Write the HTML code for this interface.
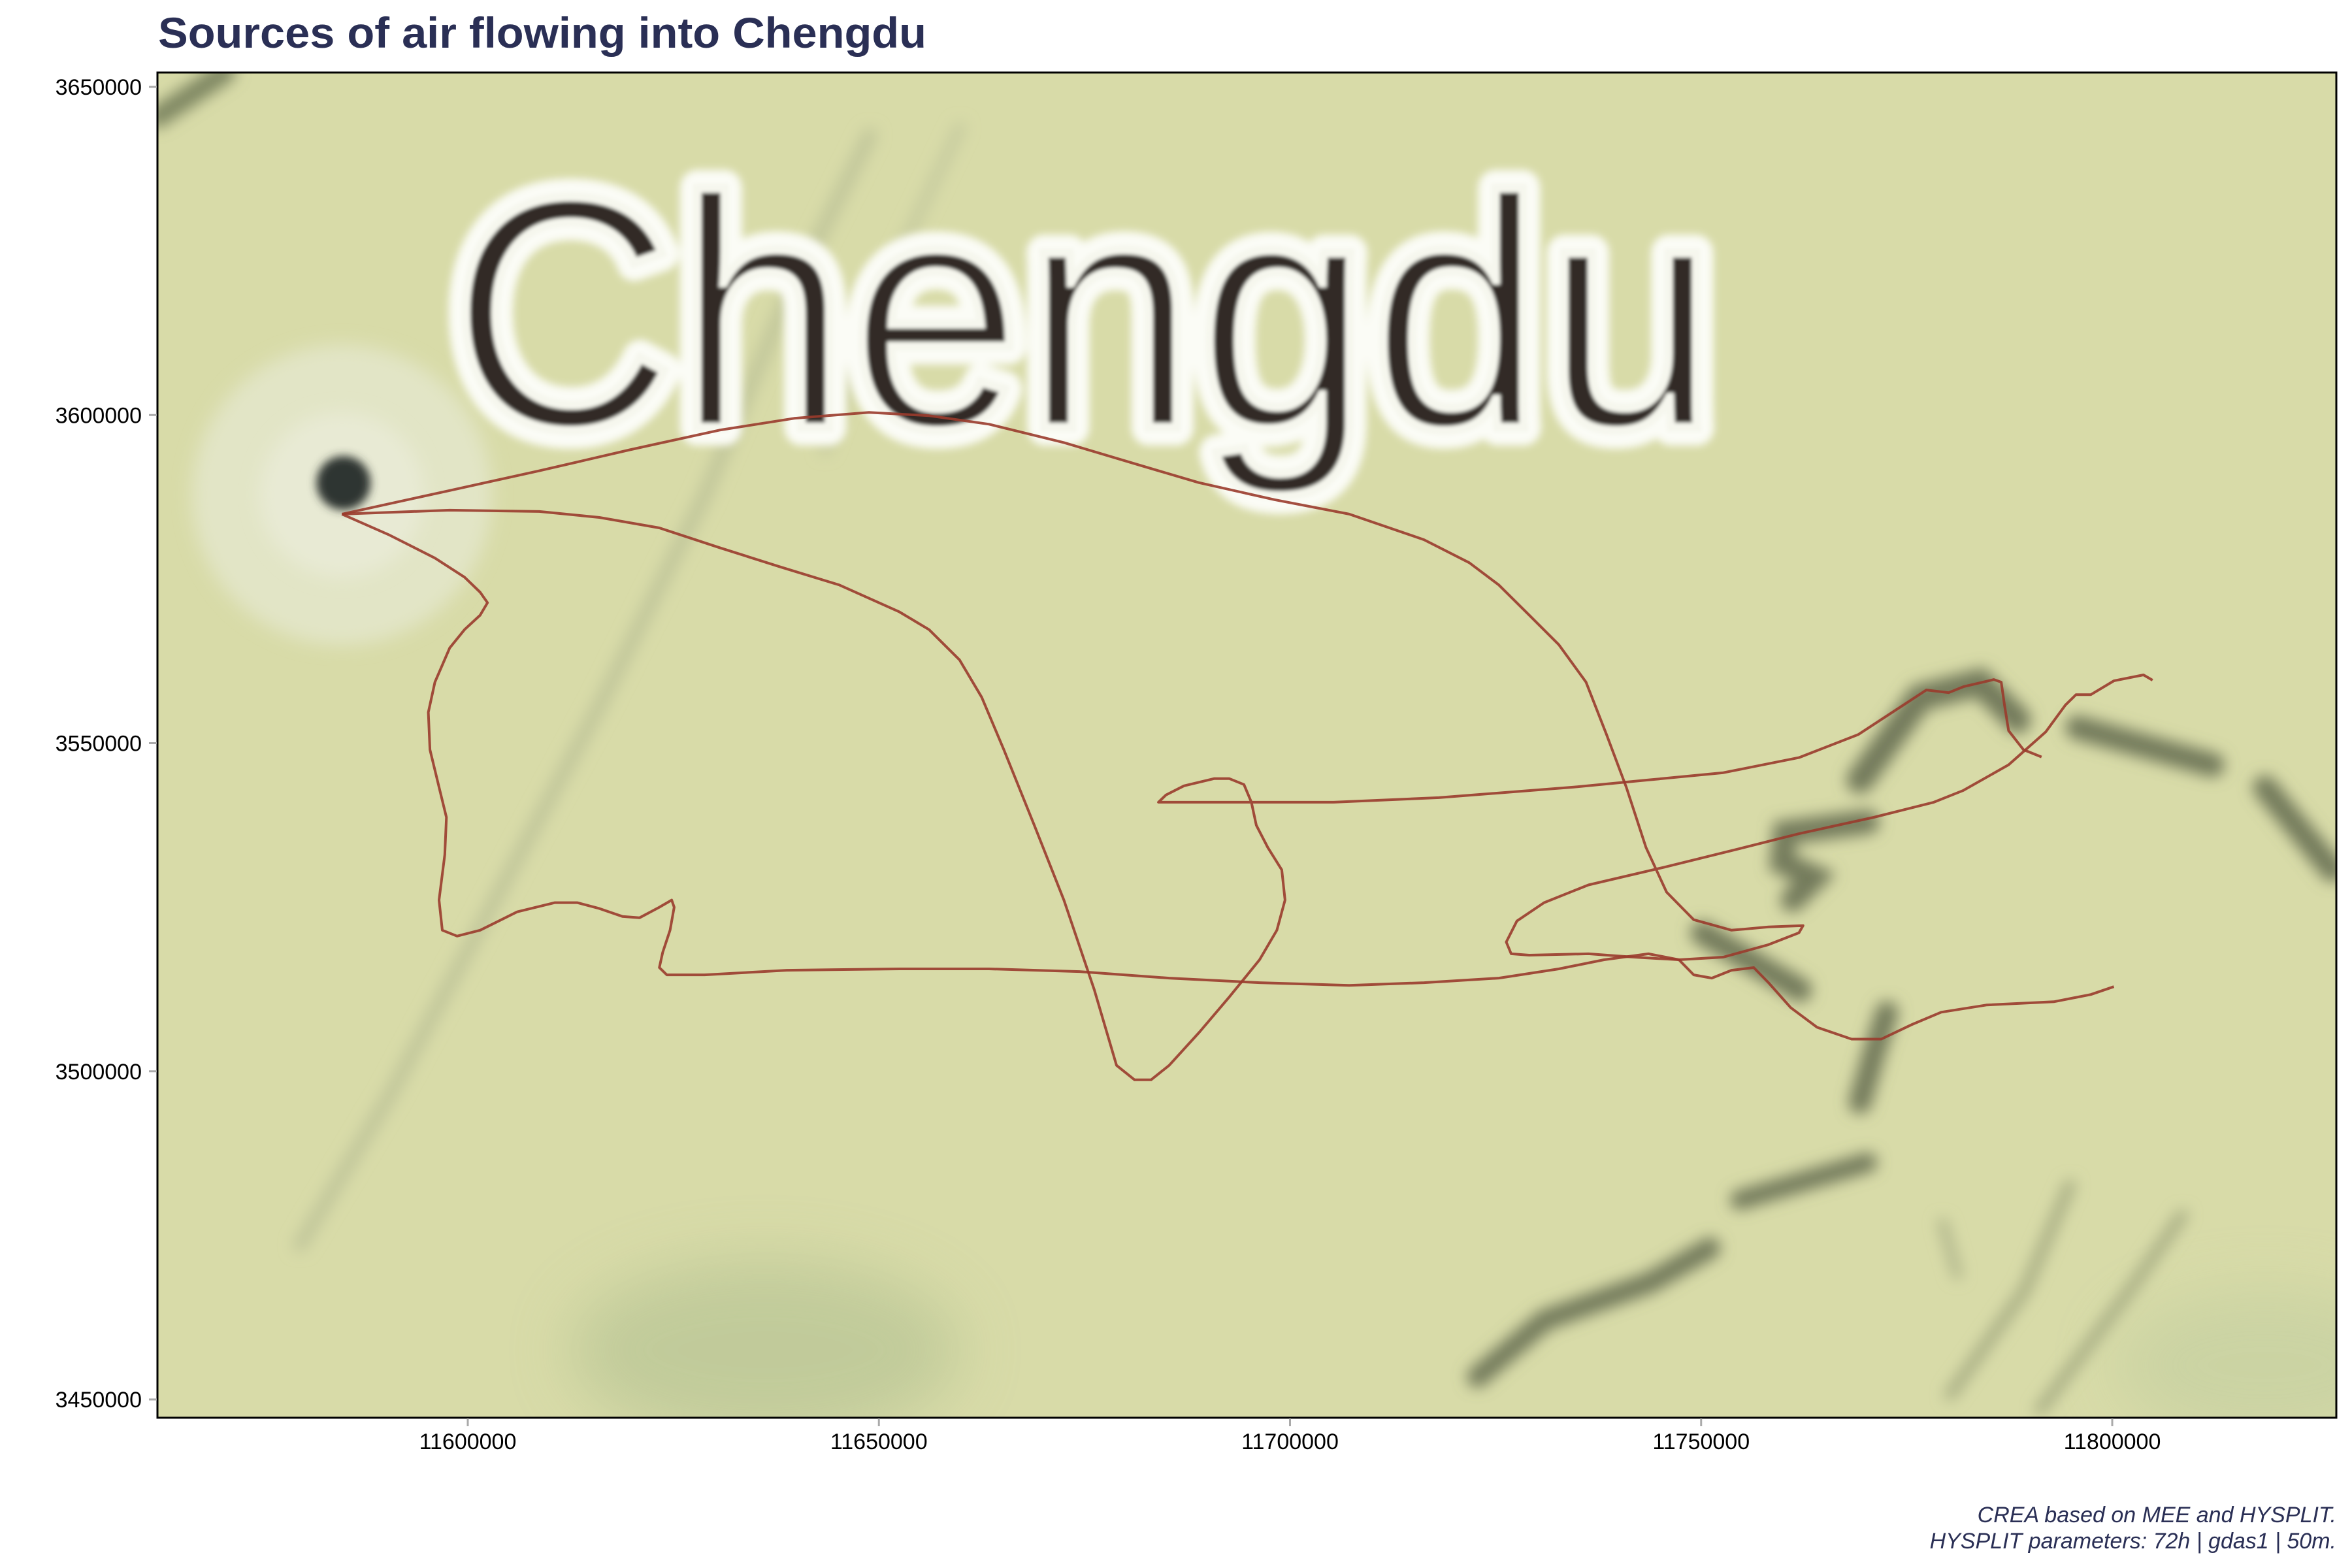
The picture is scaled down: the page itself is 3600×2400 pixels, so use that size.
<!DOCTYPE html>
<html><head><meta charset="utf-8">
<style>
html,body{margin:0;padding:0;background:#fff;}
svg{display:block;}
</style></head>
<body>
<svg id="chart" width="3600" height="2400" viewBox="0 0 3600 2400" xmlns="http://www.w3.org/2000/svg">
<defs>
<clipPath id="plotClip"><rect x="241" y="111" width="3335" height="2059"/></clipPath>
<filter id="blur3" x="-20%" y="-20%" width="140%" height="140%"><feGaussianBlur stdDeviation="3"/></filter>
<filter id="blur5" x="-20%" y="-20%" width="140%" height="140%"><feGaussianBlur stdDeviation="5"/></filter>
<filter id="blur6" x="-50%" y="-50%" width="200%" height="200%"><feGaussianBlur stdDeviation="6"/></filter>
<filter id="blur20" x="-50%" y="-50%" width="200%" height="200%"><feGaussianBlur stdDeviation="20"/></filter>
</defs>
<text x="242" y="73" font-family="Liberation Sans, Helvetica, sans-serif" font-weight="bold" font-size="66" fill="#2a2f55" textLength="1176" lengthAdjust="spacingAndGlyphs">Sources of air flowing into Chengdu</text>

<g clip-path="url(#plotClip)">
  <rect x="241" y="111" width="3335" height="2059" fill="#d8dba8"/>
  <g transform="scale(2.2959)">
    <ellipse cx="510" cy="900" rx="130" ry="60" fill="#bcc797" opacity="0.8" filter="url(#blur20)"/>
    <ellipse cx="1510" cy="910" rx="100" ry="50" fill="#c8d1a2" opacity="0.8" filter="url(#blur20)"/>
    <g fill="none" stroke-linecap="round" filter="url(#blur5)">
      <path d="M105,78 L150,48" stroke="#7d8560" stroke-width="14"/>
      <path d="M580,90 L520,210 L470,330 L400,470 L330,600 L260,730 L200,830" stroke="#c0c59a" stroke-width="9"/>
      <path d="M640,85 L590,190 L550,300" stroke="#c4c99e" stroke-width="7"/>
      <path d="M1240,520 L1280,465 L1320,455 L1345,480" stroke="#737a5b" stroke-width="18"/>
      <path d="M1385,485 L1475,510" stroke="#737a5b" stroke-width="16"/>
      <path d="M1510,525 L1555,580" stroke="#737a5b" stroke-width="16"/>
      <path d="M1245,548 L1190,555 L1188,575 L1210,585 L1195,600" stroke="#737a5b" stroke-width="16"/>
      <path d="M1135,622 L1200,660" stroke="#737a5b" stroke-width="16"/>
      <path d="M1258,675 L1250,700 L1240,735" stroke="#737a5b" stroke-width="15"/>
      <path d="M1160,800 L1245,775" stroke="#737a5b" stroke-width="13"/>
      <path d="M985,918 L1030,880 L1100,855 L1140,832" stroke="#737a5b" stroke-width="14"/>
      <path d="M1300,930 L1350,860 L1380,790" stroke="#a2a880" stroke-width="7"/>
      <path d="M1360,940 L1420,860 L1455,810" stroke="#a2a880" stroke-width="7"/>
      <path d="M1295,815 L1305,850" stroke="#aab088" stroke-width="6"/>
    </g>
    <circle cx="228" cy="330" r="100" fill="#e2e5c6" filter="url(#blur6)"/>
    <circle cx="228" cy="330" r="55" fill="#e8ead4" filter="url(#blur6)"/>
    <circle cx="229" cy="322" r="18" fill="#2f3430" filter="url(#blur3)"/>
  </g>
  <g>
    <text x="689" y="654" font-family="Liberation Sans, DejaVu Sans, sans-serif" font-size="505" textLength="1940" lengthAdjust="spacingAndGlyphs" fill="#fbfcf6" stroke="#fbfcf6" stroke-width="56" stroke-linejoin="round" filter="url(#blur6)">Chengdu</text>
    <text x="689" y="654" font-family="Liberation Sans, DejaVu Sans, sans-serif" font-size="505" textLength="1940" lengthAdjust="spacingAndGlyphs" fill="#332b26" stroke="#f6f7ee" stroke-width="14" filter="url(#blur3)">Chengdu</text>
  </g>
  <g id="traj"></g>
</g>
<rect x="241" y="111" width="3335" height="2059" fill="none" stroke="#000" stroke-width="3"/>
<g id="xaxis"></g>
<g id="yaxis"></g>
<text x="3576" y="2330" text-anchor="end" font-family="Liberation Sans, Helvetica, sans-serif" font-style="italic" font-size="34" fill="#2a2f55">CREA based on MEE and HYSPLIT.</text>
<text x="3576" y="2370" text-anchor="end" font-family="Liberation Sans, Helvetica, sans-serif" font-style="italic" font-size="34" fill="#2a2f55">HYSPLIT parameters: 72h | gdas1 | 50m.</text>
</svg>
<script>
// values in thousands of projected metres
const xTicks = [11600, 11650, 11700, 11750, 11800];
const yTicks = [3450, 3500, 3550, 3600, 3650];
const xTickLabels = ["11600000","11650000","11700000","11750000","11800000"];
const yTickLabels = ["3450000","3500000","3550000","3600000","3650000"];

const trajAx = [11584.7,11597.8,11608.7,11619.7,11630.6,11639.7,11648.8,11656.1,11663.4,11672.5,11681.6,11688.9,11698.1,11707.2,11716.3,11721.8,11725.4,11729.1,11732.7,11736.0,11738.5,11740.9,11743.3,11745.8,11749.1,11753.7,11758.2,11762.4,11761.9,11758.2,11752.7,11747.3,11741.8,11736.3,11729.1,11726.9,11726.3,11727.6,11730.9,11736.3,11745.5,11754.6,11761.9,11771.0,11778.3,11781.9,11787.4,11791.9,11794.3,11795.6,11797.4,11800.2,11803.8,11804.9];
const trajAy = [3584.9,3588.5,3591.5,3594.7,3597.7,3599.5,3600.4,3599.9,3598.6,3595.8,3592.4,3589.7,3587.1,3584.9,3581.0,3577.5,3574.1,3569.5,3565.0,3559.3,3551.3,3543.3,3534.1,3527.3,3523.1,3521.5,3522.0,3522.2,3521.1,3519.3,3517.4,3517.0,3517.4,3517.9,3517.7,3517.9,3519.7,3522.9,3525.7,3528.4,3531.1,3533.9,3536.2,3538.7,3541.0,3542.8,3546.7,3551.7,3555.8,3557.4,3557.4,3559.5,3560.4,3559.6];

const trajBx = [11584.7,11597.8,11608.7,11616.0,11623.3,11630.6,11637.9,11645.2,11652.5,11656.1,11659.8,11662.5,11665.2,11668.9,11672.5,11676.2,11678.9,11681.1,11683.1,11685.3,11689.0,11692.6,11696.3,11698.4,11699.4,11699.0,11697.3,11695.9,11695.3,11694.4,11692.6,11690.8,11687.1,11684.9,11684.0,11685.3,11705.3,11718.1,11734.5,11743.6,11752.7,11761.9,11769.1,11774.6,11777.4,11780.1,11781.9,11785.6,11786.5,11786.9,11787.4,11789.2,11791.4];
const trajBy = [3584.9,3585.5,3585.3,3584.4,3582.8,3579.8,3576.9,3574.1,3570.0,3567.3,3562.7,3557.0,3549.0,3537.5,3526.1,3512.4,3500.9,3498.7,3498.7,3500.9,3506.0,3511.3,3517.0,3521.5,3526.1,3530.7,3534.1,3537.5,3541.0,3543.7,3544.6,3544.6,3543.5,3542.1,3541.0,3541.0,3541.0,3541.7,3543.3,3544.4,3545.5,3547.8,3551.3,3555.8,3558.1,3557.7,3558.6,3559.7,3559.3,3555.8,3551.9,3549.0,3547.9];

const trajCx = [11584.7,11590.5,11596.0,11599.6,11601.5,11602.4,11601.5,11599.6,11597.8,11596.0,11595.2,11595.4,11596.5,11597.4,11597.2,11596.5,11596.9,11598.7,11601.5,11606.0,11610.6,11613.3,11616.0,11618.8,11620.9,11623.3,11624.8,11625.1,11624.6,11623.7,11623.3,11624.2,11628.8,11638.8,11652.5,11663.4,11674.4,11685.3,11696.3,11707.2,11716.3,11725.4,11732.7,11738.2,11743.6,11747.3,11749.1,11751.3,11753.7,11756.4,11758.2,11760.9,11764.1,11768.3,11771.9,11775.6,11779.2,11784.7,11792.9,11797.4,11800.2];
const trajCy = [3584.9,3581.7,3578.2,3575.3,3573.0,3571.4,3569.5,3567.3,3564.5,3559.3,3554.7,3549.0,3543.3,3538.7,3533.0,3526.1,3521.5,3520.6,3521.5,3524.3,3525.7,3525.7,3524.8,3523.6,3523.4,3525.0,3526.1,3525.0,3521.5,3518.1,3515.8,3514.7,3514.7,3515.4,3515.6,3515.6,3515.2,3514.2,3513.5,3513.1,3513.5,3514.2,3515.6,3517.0,3517.9,3517.0,3514.7,3514.2,3515.4,3515.8,3513.5,3509.7,3506.7,3504.9,3504.9,3507.1,3509.0,3510.1,3510.6,3511.7,3512.9];

const NS = "http://www.w3.org/2000/svg";
function xScale(v){ return 716 + (v - 11600) * (3233 - 716) / 200; }
function yScale(v){ return 133 + (3650 - v) * (2142 - 133) / 200; }

const trajG = document.getElementById('traj');
function drawTraj(xs, ys, name){
  let d = "";
  for (let i = 0; i < xs.length; i++){
    d += (i ? " L" : "M") + xScale(xs[i]).toFixed(1) + "," + yScale(ys[i]).toFixed(1);
  }
  const p = document.createElementNS(NS, 'path');
  p.setAttribute('d', d);
  p.setAttribute('fill', 'none');
  p.setAttribute('stroke', '#9a3b2c');
  p.setAttribute('stroke-opacity', '0.9');
  p.setAttribute('stroke-width', '4');
  p.setAttribute('stroke-linejoin', 'round');
  
  
  trajG.appendChild(p);
}
drawTraj(trajAx, trajAy, 'trajectory-a');
drawTraj(trajBx, trajBy, 'trajectory-b');
drawTraj(trajCx, trajCy, 'trajectory-c');

const xg = document.getElementById('xaxis');
xTicks.forEach((v, i) => {
  const x = xScale(v);
  const t = document.createElementNS(NS, 'line');
  t.setAttribute('x1', x); t.setAttribute('x2', x);
  t.setAttribute('y1', 2171); t.setAttribute('y2', 2183);
  t.setAttribute('stroke', '#aaaaaa'); t.setAttribute('stroke-width', '3');
  
  
  xg.appendChild(t);
  const l = document.createElementNS(NS, 'text');
  l.setAttribute('x', x); l.setAttribute('y', 2218);
  l.setAttribute('text-anchor', 'middle');
  l.setAttribute('font-family', 'Liberation Sans, Helvetica, sans-serif');
  l.setAttribute('font-size', '34');
  l.setAttribute('fill', '#000');
  l.textContent = xTickLabels[i];
  
  
  xg.appendChild(l);
});
const yg = document.getElementById('yaxis');
yTicks.forEach((v, i) => {
  const y = yScale(v);
  const t = document.createElementNS(NS, 'line');
  t.setAttribute('x1', 228); t.setAttribute('x2', 240);
  t.setAttribute('y1', y); t.setAttribute('y2', y);
  t.setAttribute('stroke', '#aaaaaa'); t.setAttribute('stroke-width', '3');
  
  
  yg.appendChild(t);
  const l = document.createElementNS(NS, 'text');
  l.setAttribute('x', 217); l.setAttribute('y', y + 12);
  l.setAttribute('text-anchor', 'end');
  l.setAttribute('font-family', 'Liberation Sans, Helvetica, sans-serif');
  l.setAttribute('font-size', '34');
  l.setAttribute('fill', '#000');
  l.textContent = yTickLabels[i];
  
  
  yg.appendChild(l);
});
</script>
</body></html>
